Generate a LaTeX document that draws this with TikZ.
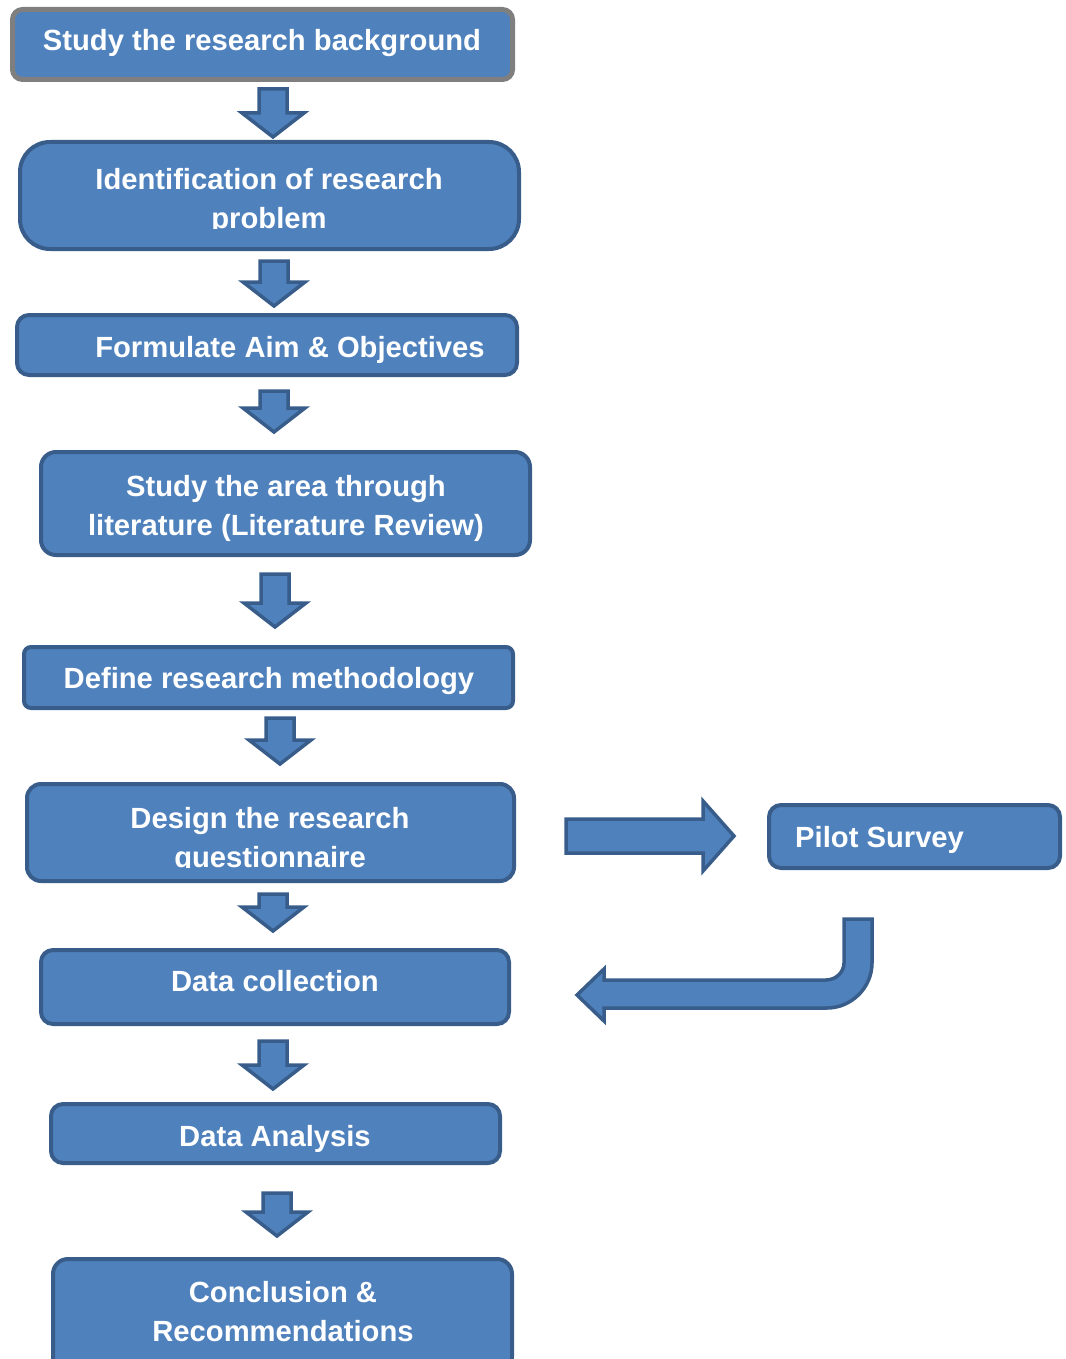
\documentclass[tikz,border=0pt]{standalone}
\usepackage{fontspec}
\setmainfont{Liberation Sans}
\usepackage{tikz}

\definecolor{boxfill}{HTML}{4F81BD}
\definecolor{boxline}{HTML}{385D8A}
\definecolor{topline}{HTML}{7F7F7F}

\newcommand\stepfont{\fontsize{29.2}{39}\selectfont\bfseries}
% block arrow pointing down: centre x, top y, tip y
\newcommand\downblock[3]{%
  \draw[blockarrow] (#1-14,#2) -- (#1+14,#2) -- (#1+14,#3-24) -- (#1+31,#3-24)
    -- (#1,#3) -- (#1-31,#3-24) -- (#1-14,#3-24) -- cycle;}

\begin{document}
\begin{tikzpicture}[x=1pt, y=-1pt,
    stepbox/.style={draw=boxline, fill=boxfill, line width=4pt, inner sep=0pt},
    steptext/.style={text=white, font=\stepfont, align=center, inner sep=0pt},
    blockarrow/.style={draw=boxline, fill=boxfill, line width=3.5pt, line join=miter}]
  \useasboundingbox (0,0) rectangle (1065,1359);

  % the boxes of the main column
  \node[stepbox, draw=topline, line width=5pt, rounded corners=10pt,
        minimum width=500pt, minimum height=70pt] (bg) at (262.5,44.5) {};
  \node[stepbox, rounded corners=30pt, minimum width=499pt, minimum height=107pt] (prob) at (269.5,195.5) {};
  \node[stepbox, rounded corners=12pt, minimum width=500pt, minimum height=60pt] (aim) at (267,345) {};
  \node[stepbox, rounded corners=15pt, minimum width=489pt, minimum height=103pt] (lit) at (285.5,503.5) {};
  \node[stepbox, rounded corners=7pt, minimum width=489pt, minimum height=61pt] (meth) at (268.5,677.5) {};
  \node[stepbox, rounded corners=14pt, minimum width=487pt, minimum height=97pt] (quest) at (270.5,832.5) {};
  \node[stepbox, rounded corners=12pt, minimum width=468pt, minimum height=74pt] (coll) at (275,987) {};
  \node[stepbox, rounded corners=12pt, minimum width=449pt, minimum height=59pt] (anal) at (275.5,1133.5) {};
  \node[stepbox, rounded corners=15pt, minimum width=459pt, minimum height=113pt] (concl) at (282.5,1315.5) {};
  \node[stepbox, rounded corners=12pt, minimum width=291pt, minimum height=63pt] (pilot) at (914.5,836.5) {};

  % texts (base of a two-line text is its last line)
  \node[steptext, anchor=base] (bgtxt) at (262,51) {Study the research background};
  \begin{scope}
    \clip (20,142) rectangle (519,228);
    \node[steptext, anchor=base] (probtxt) at (269,228) {Identification of research\\problem};
  \end{scope}
  \node[steptext, anchor=base] (aimtxt) at (290,357) {Formulate Aim \& Objectives};
  \node[steptext, anchor=base] (littxt) at (286,535) {Study the area through\\literature (Literature Review)};
  \node[steptext, anchor=base] (methtxt) at (269,688) {Define research methodology};
  \begin{scope}
    \clip (27,784) rectangle (514,867);
    \node[steptext, anchor=base] (questtxt) at (270,867) {Design the research\\questionnaire};
  \end{scope}
  \node[steptext, anchor=base] (colltxt) at (275,991) {Data collection};
  \node[steptext, anchor=base] (analtxt) at (275,1146) {Data Analysis};
  \node[steptext, anchor=base] (concltxt) at (283,1341) {Conclusion \&\\Recommendations};
  \node[steptext, anchor=base west] (pilottxt) at (795,847) {Pilot Survey};

  % arrows between the steps
  \downblock{273}{89}{137}
  \downblock{274}{261}{306}
  \downblock{274}{391}{432}
  \downblock{275}{574}{627}
  \downblock{280}{718}{764}
  \downblock{273}{894}{931}
  \downblock{273}{1041}{1089}
  \downblock{277}{1193}{1236}

  % out to the pilot survey and back
  \draw[blockarrow] (566,819) -- (703,819) -- (703,801) -- (734,836) -- (703,871)
    -- (703,853) -- (566,853) -- cycle;
  \draw[blockarrow] (844,919) -- (872,919) -- (872,963)
    .. controls (872,988) and (851,1008) .. (827,1008) -- (604,1008) -- (604,1021)
    -- (577,995) -- (604,969) -- (604,980) -- (826,980)
    .. controls (836,980) and (844,972) .. (844,963) -- cycle;
\end{tikzpicture}
\end{document}
